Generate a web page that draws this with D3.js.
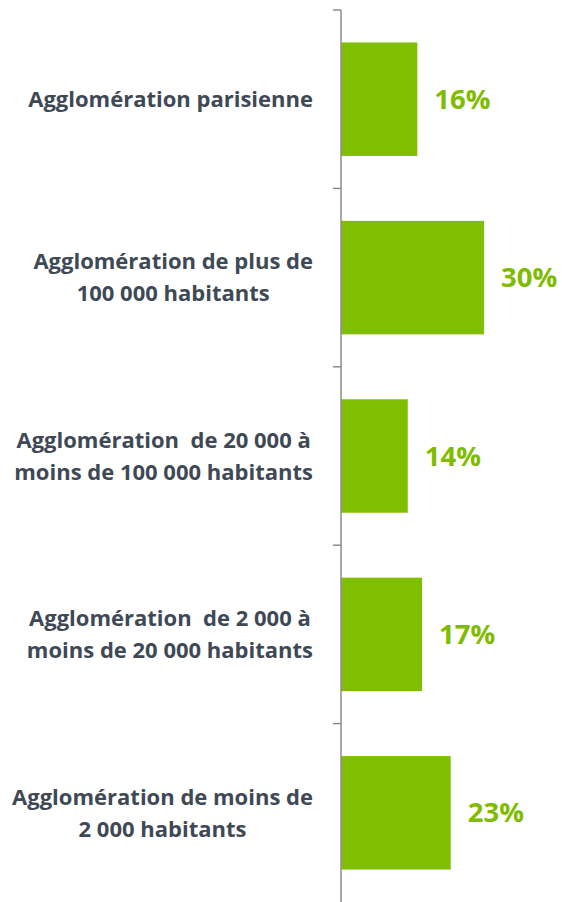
<!DOCTYPE html>
<meta charset="utf-8">
<style>
body { margin: 0; background: #fff; }
.label { font-family: "Open Sans", Lato, sans-serif; font-weight: bold; font-size: 22px; fill: #3e4955; white-space: pre; }
.value { font-family: "Open Sans", Lato, sans-serif; font-weight: bold; font-size: 27.5px; fill: #7fbc00; }
.axis { stroke: #8c8c8c; stroke-width: 1.5px; }
</style>
<svg width="562" height="902"></svg>
<script src="https://cdn.jsdelivr.net/npm/d3@7"></script>
<script>

var categories = [
  "Agglomération parisienne",
  "Agglomération de plus de\n100 000 habitants",
  "Agglomération  de 20 000 à\nmoins de 100 000 habitants",
  "Agglomération  de 2 000 à\nmoins de 20 000 habitants",
  "Agglomération de moins de\n2 000 habitants"
];
var values = [16, 30, 14, 17, 23];

var svg = d3.select("svg"),
    x0 = 341,
    labelRight = 313;

var x = d3.scaleLinear().domain([0, 100]).range([x0, x0 + 477]);
var y = d3.scaleBand().domain(categories).range([10, 902])
    .paddingInner(0.364).paddingOuter(0.182);

var data = categories.map(function(c, i) { return {cat: c, value: values[i]}; });

// bars
svg.append("g").selectAll("rect")
    .data(data)
  .enter().append("rect")
    .attr("x", x(0))
    .attr("y", d => y(d.cat))
    .attr("width", d => x(d.value) - x(0))
    .attr("height", y.bandwidth())
    .attr("fill", "#7fbe00");

// axis line + ticks at band boundaries
var pad = y.step() * y.paddingInner() / 2;
svg.append("line").attr("class", "axis")
    .attr("x1", x0).attr("x2", x0).attr("y1", 10).attr("y2", 902);
svg.append("g").selectAll("line")
    .data(categories)
  .enter().append("line").attr("class", "axis")
    .attr("x1", x0 - 8).attr("x2", x0)
    .attr("y1", d => y(d) - pad).attr("y2", d => y(d) - pad);

// category labels: lines centred on each other, block right-aligned
var lineH = 32;
categories.forEach(function(c) {
  var lines = c.split("\n");
  var g = svg.append("g");
  var texts = lines.map(function(l, j) {
    return g.append("text").attr("class", "label")
      .attr("dy", "0.35em")
      .attr("y", y(c) + y.bandwidth() / 2 + (j - (lines.length - 1) / 2) * lineH)
      .attr("text-anchor", "middle")
      .text(l);
  });
  var maxW = d3.max(texts, t => t.node().getComputedTextLength());
  texts.forEach(t => t.attr("x", labelRight - maxW / 2));
});

// value labels
svg.append("g").selectAll("text")
    .data(data)
  .enter().append("text").attr("class", "value")
    .attr("x", d => x(d.value) + 17)
    .attr("y", d => y(d.cat) + y.bandwidth() / 2)
    .attr("dy", "0.35em")
    .text(d => d.value + "%");

</script>
